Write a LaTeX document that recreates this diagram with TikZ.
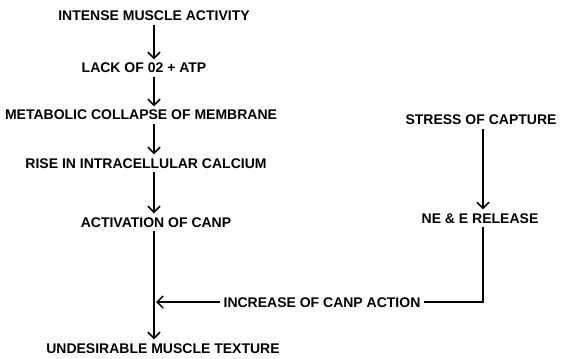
\documentclass[tikz,border=0pt]{standalone}
\usepackage{fontspec}
\setmainfont{Liberation Sans}
\usetikzlibrary{arrows.meta}

\tikzset{
  box/.style={font=\bfseries\fontsize{14}{16}\selectfont, inner sep=3.5pt, text height=10pt, text depth=0pt},
  flow/.style={line width=1.5pt, -{Straight Barb[length=6pt,width=12pt]}},
  link/.style={line width=1.5pt},
}

\begin{document}
\begin{tikzpicture}[x=1pt,y=-1pt]
\useasboundingbox (0,0) rectangle (561,358);
\coordinate (col) at (154,0);
\coordinate (corner) at (483,302);
% main chain
\node[box] (intense) at (154,16) {INTENSE MUSCLE ACTIVITY};
\node[box] (lack) at (144,68) {LACK OF 02 + ATP};
\node[box] (collapse) at (141,115) {METABOLIC COLLAPSE OF MEMBRANE};
\node[box] (calcium) at (146,163) {RISE IN INTRACELLULAR CALCIUM};
\node[box] (canp) at (156,222) {ACTIVATION OF CANP};
\node[box] (texture) at (163,348) {UNDESIRABLE MUSCLE TEXTURE};
% side chain
\node[box] (stress) at (481,120) {STRESS OF CAPTURE};
\node[box] (release) at (480,218) {NE \& E RELEASE};
\node[box] (increase) at (322,302) {INCREASE OF CANP ACTION};

\draw[flow] (intense.south -| col) -- (lack.north -| col);
\draw[flow] (lack.south -| col) -- (collapse.north -| col);
\draw[flow] (collapse.south -| col) -- (calcium.north -| col);
\draw[flow] (calcium.south -| col) -- (canp.north -| col);
\draw[flow] (canp.south -| col) -- (texture.north -| col);
\draw[flow] (stress.south -| corner) -- (release.north -| corner);
\draw[link] (release.south -| corner) -- (corner) -- (increase.east);
\draw[flow] (increase.west) -- ([xshift=2pt]col |- increase);
\end{tikzpicture}
\end{document}
